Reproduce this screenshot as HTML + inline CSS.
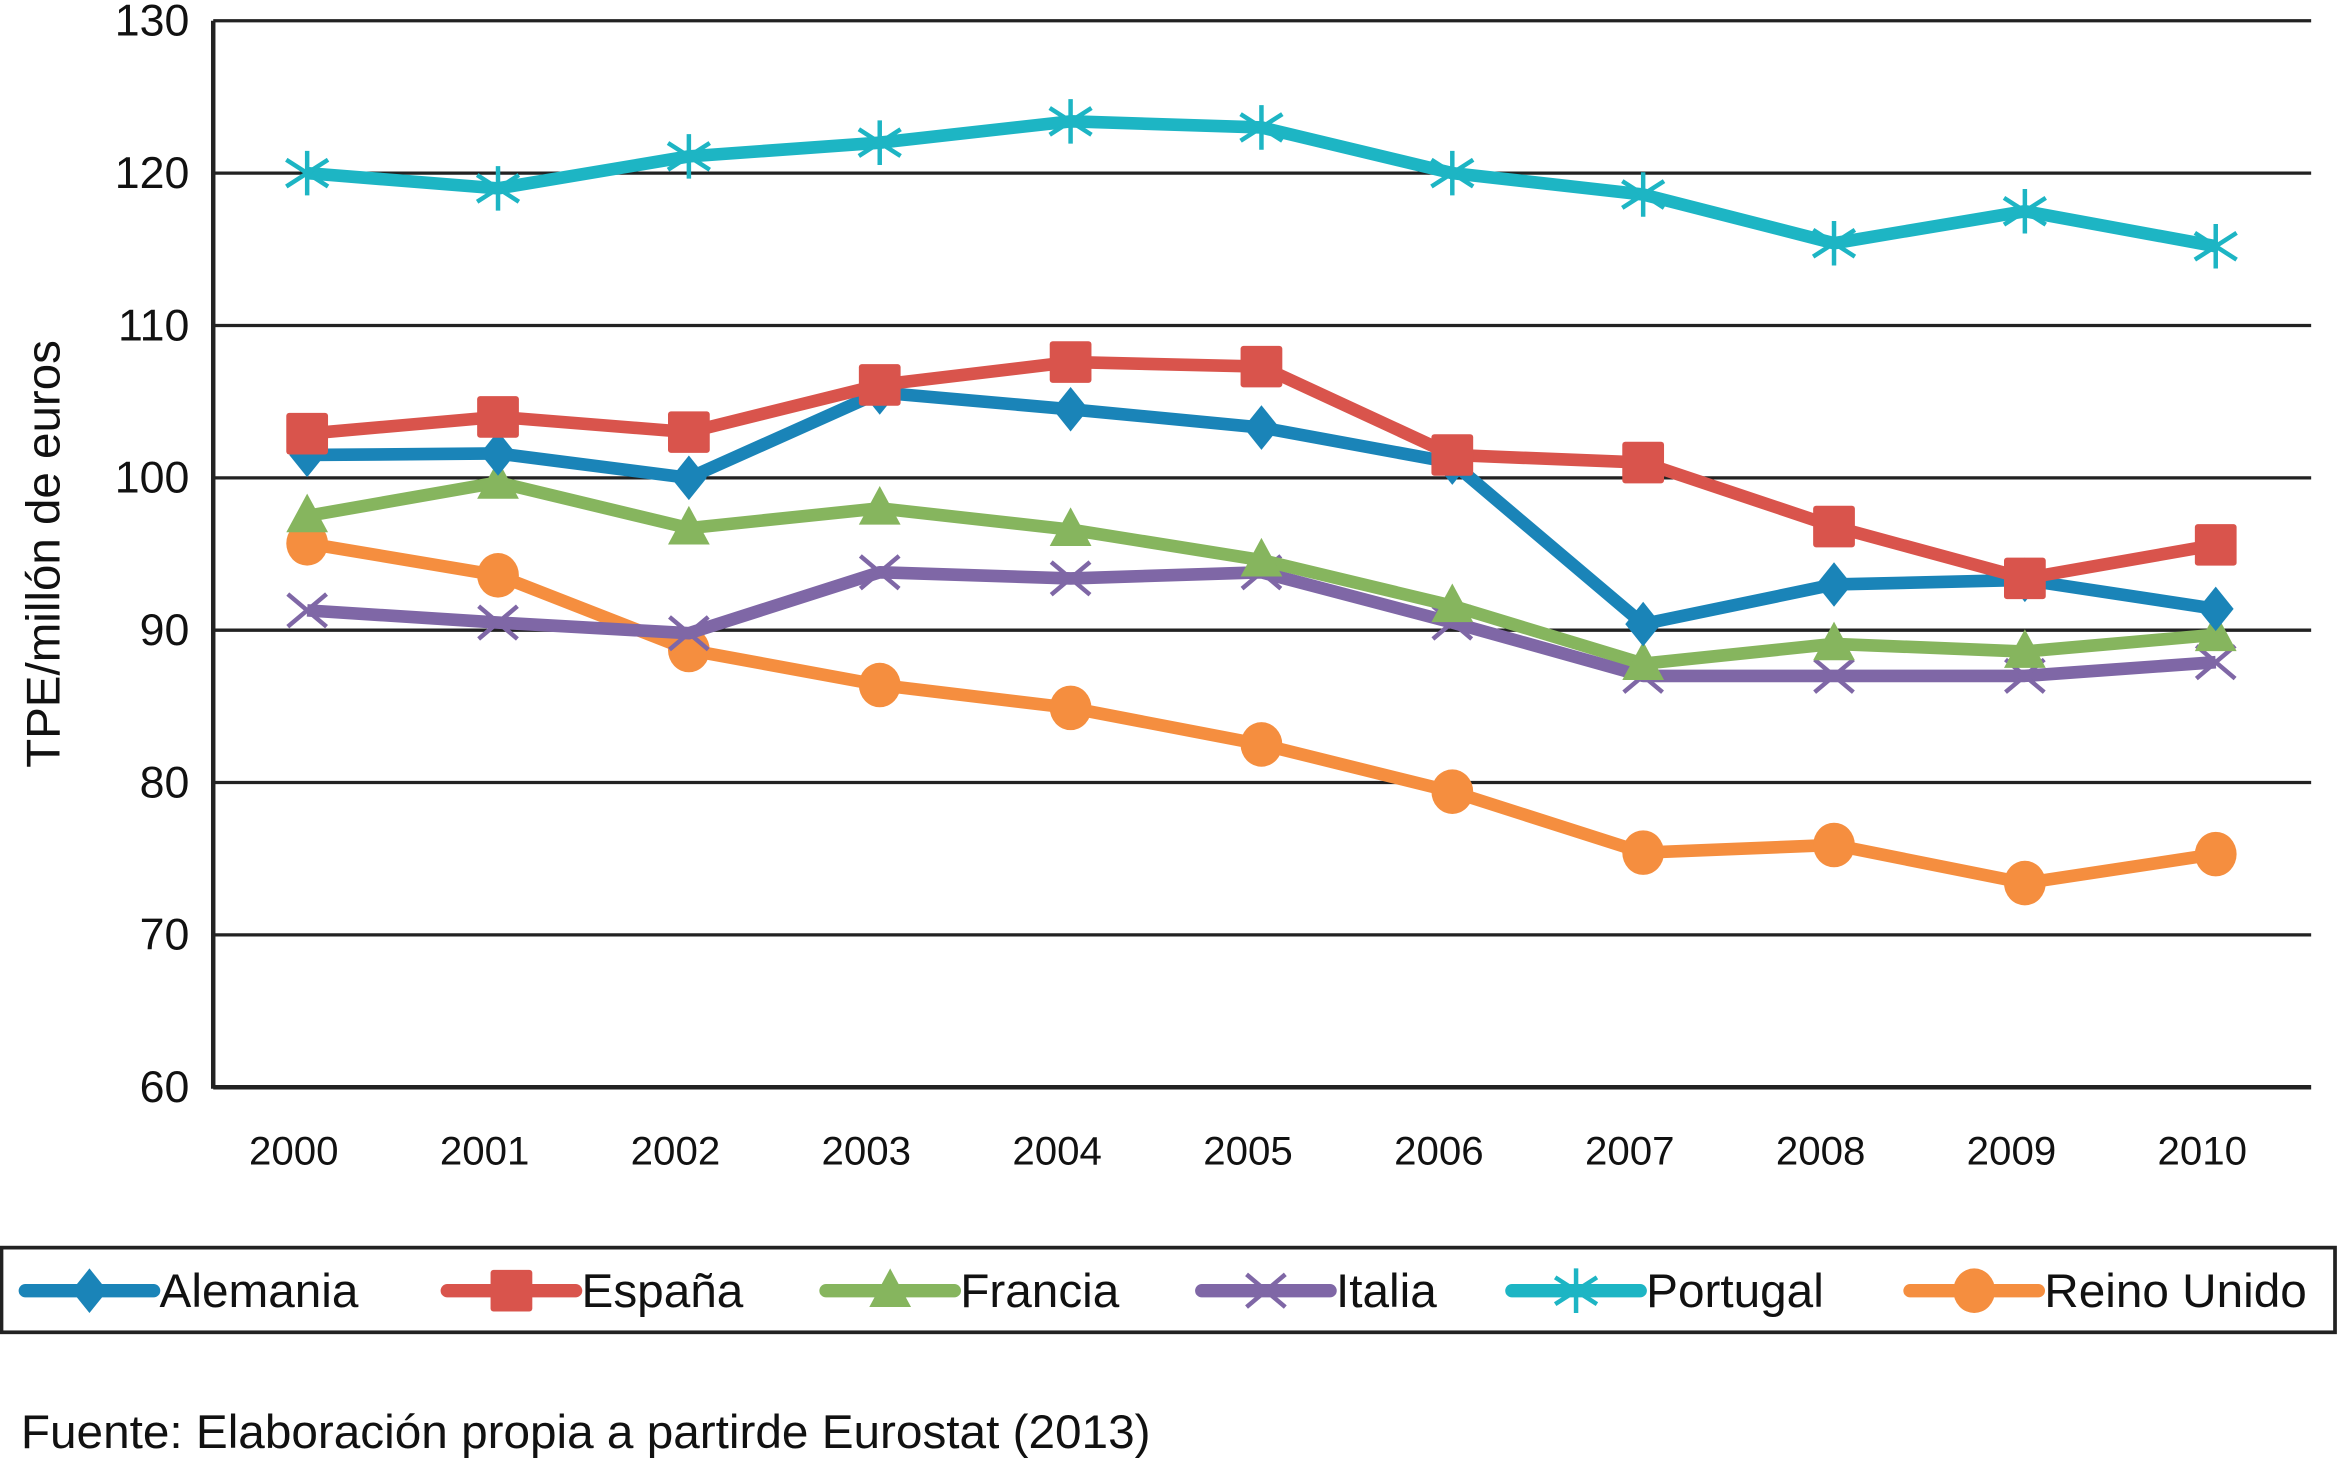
<!DOCTYPE html>
<html><head><meta charset="utf-8"><style>
html,body{margin:0;padding:0;background:#fff;}
svg{display:block;font-family:"Liberation Sans",Arial,sans-serif;}
</style></head><body>
<svg id="chart" width="2338" height="1463" viewBox="0 0 1568 985" preserveAspectRatio="none" xmlns="http://www.w3.org/2000/svg">
<g id="grid"></g>
<g id="yt"></g>
<g id="xt"></g>
<text transform="translate(40,373) rotate(-90)" text-anchor="middle" font-size="32" fill="#111">TPE/millón de euros</text>
<g id="series"></g>
<rect x="1" y="840" width="1565" height="57" fill="none" stroke="#222" stroke-width="2.5"/>
<g id="legend"></g>
<text x="14" y="975" font-size="32" fill="#111">Fuente: Elaboración propia a partirde Eurostat (2013)</text>
</svg>
<script>
const years=["2000","2001","2002","2003","2004","2005","2006","2007","2008","2009","2010"];
const yTicks=[60,70,80,90,100,110,120,130];
const seriesNames=["Alemania","España","Francia","Italia","Portugal","Reino Unido"];
const alemania=[101.5,101.6,100,105.6,104.5,103.3,101,90.4,93,93.3,91.4];
const espana=[102.9,104,103,106.1,107.6,107.3,101.5,101,96.8,93.4,95.6];
const francia=[97.5,99.7,96.7,98,96.6,94.6,91.6,87.8,89.1,88.6,89.7];
const italia=[91.3,90.5,89.8,93.8,93.4,93.8,90.5,87,87,87,87.9];
const portugal=[120,119,121.1,122,123.4,123,120,118.6,115.4,117.5,115.2];
const reinoUnido=[95.7,93.6,88.7,86.4,84.9,82.5,79.4,75.4,75.9,73.4,75.3];

const NS="http://www.w3.org/2000/svg";
const X0=143,X1=1550,Y0=732,Y1=14;
const xs=i=>206+i*128;
const ys=v=>Y0-(v-60)/(130-60)*(Y0-Y1);
function mk(tag,attrs,parent){const e=document.createElementNS(NS,tag);for(const k in attrs)e.setAttribute(k,attrs[k]);parent.appendChild(e);return e;}
const grid=document.getElementById('grid'),yt=document.getElementById('yt'),xt=document.getElementById('xt');
yTicks.forEach(v=>{
  if(v>60){const l=mk('line',{x1:X0,x2:X1,y1:ys(v),y2:ys(v),stroke:'#222','stroke-width':2.2},grid);
  
  }
  const t=mk('text',{x:127,y:ys(v)+10,'text-anchor':'end','font-size':30,fill:'#111'},yt);t.textContent=v;
  
  
});
const ax=mk('line',{x1:X0,x2:X0,y1:Y1,y2:Y0+1,stroke:'#222','stroke-width':3},grid);


const bx=mk('line',{x1:X0,x2:X1,y1:Y0,y2:Y0,stroke:'#222','stroke-width':3},grid);


years.forEach((y,i)=>{const t=mk('text',{x:xs(i)-9,y:784,'text-anchor':'middle','font-size':27,fill:'#111'},xt);t.textContent=y;
  
  });

const colors=["#1a84b8","#d9544c","#86b55e","#7f67a6","#1db5c4","#f58e3f"];
const markers=["diamond","square","triangle","x","star","circle"];
function marker(type,x,y,c,g){
  let e;
  if(type==="diamond")e=mk('polygon',{points:`${x},${y-15} ${x+12},${y} ${x},${y+15} ${x-12},${y}`,fill:c},g);
  else if(type==="square")e=mk('rect',{x:x-14,y:y-14,width:28,height:28,rx:2,fill:c},g);
  else if(type==="triangle")e=mk('polygon',{points:`${x},${y-15} ${x+14},${y+11} ${x-14},${y+11}`,fill:c},g);
  else if(type==="circle")e=mk('ellipse',{cx:x,cy:y,rx:14,ry:15,fill:c},g);
  else if(type==="x")e=mk('path',{d:`M${x-13},${y-11}L${x+13},${y+11}M${x-13},${y+11}L${x+13},${y-11}`,stroke:c,'stroke-width':3,fill:'none'},g);
  else e=mk('path',{d:`M${x-14},${y-9}L${x+14},${y+9}M${x-14},${y+9}L${x+14},${y-9}M${x},${y-15}L${x},${y+15}`,stroke:c,'stroke-width':3,fill:'none'},g);
  return e;
}
const data=[alemania,espana,francia,italia,portugal,reinoUnido];
const order=[5,3,2,0,1,4];
const sg=document.getElementById('series');
order.forEach(si=>{
  const g=mk('g',{},sg);
  
  
  const pts=data[si].map((v,i)=>xs(i)+','+ys(v)).join(' ');
  const pl=mk('polyline',{points:pts,fill:'none',stroke:colors[si],'stroke-width':8.5,'stroke-linejoin':'round'},g);
  
  
  data[si].forEach((v,i)=>{const m=marker(markers[si],xs(i),ys(v),colors[si],g);
    
    });
});
const lg=document.getElementById('legend');
const lx=[17,300,554,806,1014,1281];
seriesNames.forEach((n,i)=>{
  const g=mk('g',{},lg);
  
  
  mk('line',{x1:lx[i],x2:lx[i]+86,y1:869,y2:869,stroke:colors[i],'stroke-width':9,'stroke-linecap':'round'},g);
  marker(markers[i],lx[i]+43,869,colors[i],g);
  const t=mk('text',{x:lx[i]+90,y:880,'font-size':32,fill:'#111'},g);t.textContent=n;
});
</script>
</body></html>
